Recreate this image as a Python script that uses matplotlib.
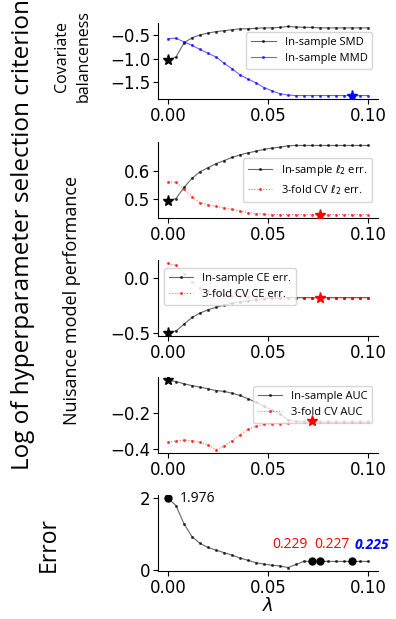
import matplotlib
matplotlib.use("Agg")
import matplotlib.pyplot as plt
import numpy as np

# lambda grid, step 0.004
lam = np.round(np.arange(26) * 0.004, 3)

smd_in = [-1.03, -0.96, -0.66, -0.55, -0.49, -0.45, -0.42, -0.40, -0.38, -0.36,
          -0.36, -0.35, -0.34, -0.34, -0.33, -0.31, -0.32, -0.33, -0.33, -0.34,
          -0.34, -0.34, -0.34, -0.34, -0.34, -0.34]
mmd_in = [-0.57, -0.56, -0.64, -0.71, -0.80, -0.88, -0.96, -1.09, -1.21, -1.34,
          -1.43, -1.51, -1.61, -1.68, -1.74, -1.77, -1.78, -1.78, -1.78, -1.78,
          -1.78, -1.78, -1.78, -1.78, -1.78, -1.78]

l2_in = [0.492, 0.502, 0.541, 0.573, 0.596, 0.610, 0.624, 0.635, 0.646, 0.655,
         0.662, 0.668, 0.674, 0.679, 0.682, 0.687, 0.688, 0.688, 0.688, 0.688,
         0.688, 0.688, 0.688, 0.688, 0.688, 0.688]
l2_cv = [0.561, 0.559, 0.535, 0.508, 0.488, 0.481, 0.475, 0.469, 0.464, 0.458,
         0.453, 0.449, 0.448, 0.446, 0.446, 0.446, 0.446, 0.446, 0.446, 0.446,
         0.446, 0.446, 0.446, 0.446, 0.446, 0.446]

ce_in = [-0.494, -0.479, -0.418, -0.357, -0.317, -0.287, -0.265, -0.244, -0.229, -0.216,
         -0.204, -0.195, -0.189, -0.183, -0.180, -0.177, -0.177, -0.177, -0.177, -0.177,
         -0.177, -0.177, -0.177, -0.177, -0.177, -0.177]
ce_cv = [0.134, 0.116, 0.040, -0.037, -0.090, -0.120, -0.137, -0.149, -0.159, -0.165,
         -0.171, -0.174, -0.177, -0.177, -0.177, -0.177, -0.177, -0.177, -0.177, -0.177,
         -0.177, -0.177, -0.177, -0.177, -0.177, -0.177]

auc_in = [-0.013, -0.019, -0.032, -0.042, -0.051, -0.060, -0.070, -0.075, -0.085, -0.098,
          -0.117, -0.136, -0.158, -0.183, -0.202, -0.236, -0.245, -0.249, -0.249, -0.249,
          -0.249, -0.249, -0.249, -0.249, -0.249, -0.249]
auc_cv = [-0.362, -0.355, -0.351, -0.353, -0.362, -0.377, -0.404, -0.385, -0.353, -0.321,
          -0.290, -0.272, -0.262, -0.258, -0.257, -0.251, -0.245, -0.243, -0.243, -0.243,
          -0.243, -0.243, -0.243, -0.243, -0.243, -0.243]

err = [1.976, 1.78, 1.27, 0.915, 0.726, 0.613, 0.538, 0.47, 0.40, 0.32,
       0.255, 0.19, 0.15, 0.12, 0.10, 0.055, 0.14, 0.229, 0.229, 0.227,
       0.226, 0.226, 0.226, 0.225, 0.225, 0.225]

# selected lambdas (index into grid)
sel_smd, sel_mmd = 0, 23
sel_l2 = 19
sel_ce = 19
sel_auc = 18
err_marks = [0, 18, 19, 23]
err_labels = ["0.229", "0.227", "0.225"]

LBL = "Open Sans"
plt.rcParams["font.size"] = 12

fig = plt.figure(figsize=(3.96, 6.19), dpi=100)
W, H = 396, 619
left, right = 158 / W, 378 / W
tops = [23, 142, 260, 377, 495]
axs = [fig.add_axes([left, 1 - (t + 76) / H, right - left, 76 / H]) for t in tops]

kw_in = dict(color="k", lw=0.8, alpha=0.6, marker=".", ms=2.5, mfc="k", mec="k")
kw_cv = dict(color="r", lw=0.8, ls=":", alpha=0.6, marker=".", ms=2.5, mfc="r", mec="r")
kw_b = dict(color="b", lw=0.8, alpha=0.6, marker=".", ms=2.5, mfc="b", mec="b")
leg_kw = dict(prop={"family": LBL, "size": 8}, handlelength=2.2, framealpha=0.8,
              borderpad=0.45, labelspacing=0.45)
star = dict(ms=8, zorder=6)

ax = axs[0]
ax.plot(lam, smd_in, label="In-sample SMD", **kw_in)
ax.plot(lam, mmd_in, label="In-sample MMD", **kw_b)
ax.plot(lam[sel_smd], smd_in[sel_smd], "k*", **star)
ax.plot(lam[sel_mmd], mmd_in[sel_mmd], "b*", **star)
ax.set_yticks([-0.5, -1.0, -1.5])
ax.legend(loc="upper right", bbox_to_anchor=(1.0, 0.95), **leg_kw)

ax = axs[1]
ax.plot(lam, l2_in, label=r"In-sample $\ell_2$ err.", **kw_in)
ax.plot(lam, l2_cv, label=r"3-fold CV $\ell_2$ err.", **kw_cv)
ax.plot(lam[0], l2_in[0], "k*", **star)
ax.plot(lam[sel_l2], l2_cv[sel_l2], "r*", **star)
ax.set_yticks([0.5, 0.6])
ax.legend(loc="center right", bbox_to_anchor=(1.0, 0.5), **leg_kw)

ax = axs[2]
ax.plot(lam, ce_in, label="In-sample CE err.", **kw_in)
ax.plot(lam, ce_cv, label="3-fold CV CE err.", **kw_cv)
ax.plot(lam[0], ce_in[0], "k*", **star)
ax.plot(lam[sel_ce], ce_cv[sel_ce], "r*", **star)
ax.set_yticks([0.0, -0.5])
ax.legend(loc="upper left", bbox_to_anchor=(0.0, 0.97), **leg_kw)

ax = axs[3]
ax.plot(lam, auc_in, label="In-sample AUC", **kw_in)
ax.plot(lam, auc_cv, label="3-fold CV AUC", **kw_cv)
ax.plot(lam[0], auc_in[0], "k*", **star)
ax.plot(lam[sel_auc], auc_cv[sel_auc], "r*", **star)
ax.set_yticks([-0.2, -0.4])
ax.legend(loc="upper right", bbox_to_anchor=(1.0, 0.95), **leg_kw)

ax = axs[4]
ax.plot(lam, err, color="k", lw=0.8, alpha=0.6, marker=".", ms=2.5, mfc="k", mec="k")
ax.plot(lam[err_marks], np.array(err)[err_marks], "ko", ms=5)
ax.set_yticks([0, 2])
ax.set_xlabel(r"$\lambda$", fontsize=13, labelpad=0)
ax.text(0.006, 1.976, "1.976", fontsize=10, family=LBL, va="center", ha="left")
txt_x = [0.061, 0.082, 0.102]
for x, s, c, st in zip(txt_x, err_labels, ["r", "r", "b"], ["normal", "normal", "italic"]):
    ax.text(x, 0.5, s, color=c, fontsize=10, family=LBL, ha="center", va="bottom",
            style=st, fontweight="bold" if c == "b" else "normal")

for ax in axs:
    ax.spines["top"].set_visible(False)
    ax.spines["right"].set_visible(False)
    ax.set_xticks([0.0, 0.05, 0.10])
    ax.set_xticklabels(["0.00", "0.05", "0.10"])
    ax.tick_params(labelsize=12, pad=2)

fig.text(0.057, 1 - 470 / H, "Log of hyperparameter selection criterion", rotation=90,
         ha="center", va="bottom", fontsize=17.5, family=LBL)
fig.text(0.183, 1 - 56 / H, "Covariate\nbalanceness", rotation=90, ha="center",
         va="center", fontsize=11.5, family=LBL, linespacing=1.45)
fig.text(0.183, 1 - 300 / H, "Nuisance model performance", rotation=90, ha="center",
         va="center", fontsize=13, family=LBL)
fig.text(0.124, 1 - 544 / H, "Error", rotation=90, ha="center", va="center",
         fontsize=16.5, family=LBL)

fig.savefig("out.png", dpi=100)
